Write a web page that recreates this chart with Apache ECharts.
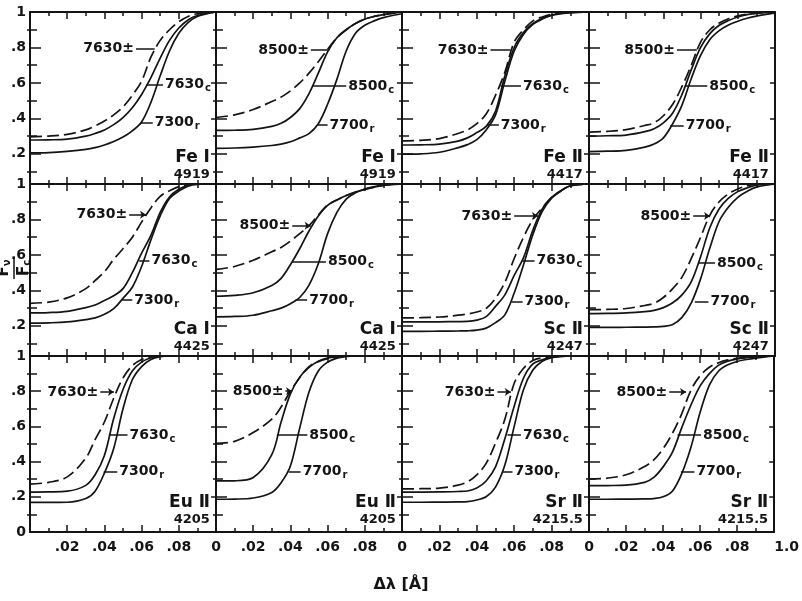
<!DOCTYPE html>
<html><head><meta charset="utf-8">
<script src="https://cdn.jsdelivr.net/npm/echarts@6/dist/echarts.min.js"></script>
<style>html,body{margin:0;padding:0;background:#fff}#c{width:802px;height:601px}</style>
</head><body><div id="c"></div>
<script>
// shared wavelength offsets (Å)
const xs = [0, 0.01, 0.02, 0.03, 0.035, 0.04, 0.045, 0.05, 0.055, 0.06, 0.065, 0.07, 0.075, 0.08, 0.085, 0.09, 0.1];

// Fe I 4919
const fe1_4919_7630pm = [.296,.30,.31,.335,.357,.385,.42,.465,.53,.61,.745,.84,.9,.945,.975,.99,1];
const fe1_4919_7630c  = [.278,.279,.283,.30,.315,.335,.365,.405,.46,.535,.63,.74,.84,.91,.955,.98,1];
const fe1_4919_7300r  = [.205,.207,.214,.225,.235,.25,.27,.295,.33,.38,.49,.64,.78,.88,.94,.975,1];
const fe1_4919_8500pm = [.405,.42,.45,.495,.52,.555,.6,.655,.72,.79,.855,.9,.935,.96,.975,.985,1];
const fe1_4919_8500c  = [.332,.333,.338,.355,.372,.405,.455,.54,.655,.775,.855,.9,.935,.96,.975,.985,1];
const fe1_4919_7700r  = [.231,.233,.238,.247,.255,.268,.29,.314,.37,.48,.62,.78,.88,.925,.95,.968,.99];
// Fe II 4417
const fe2_4417_7630pm = [.273,.276,.286,.315,.335,.37,.425,.53,.66,.83,.9,.95,.972,.987,.994,.998,1];
const fe2_4417_7630c  = [.25,.251,.255,.272,.29,.32,.355,.44,.64,.8,.885,.935,.965,.983,.992,.997,1];
const fe2_4417_7300r  = [.198,.2,.209,.235,.252,.28,.335,.42,.61,.78,.875,.93,.96,.98,.99,.996,1];
const fe2_4417_8500pm = [.323,.327,.337,.36,.375,.415,.48,.58,.7,.83,.9,.938,.962,.978,.988,.994,1];
const fe2_4417_8500c  = [.3,.302,.306,.325,.342,.375,.43,.535,.675,.8,.878,.925,.952,.972,.985,.992,1];
const fe2_4417_7700r  = [.213,.215,.22,.238,.255,.29,.37,.475,.625,.755,.845,.895,.927,.948,.965,.977,.995];
// Ca I 4425
const ca1_4425_7630pm = [.327,.334,.358,.41,.455,.505,.575,.635,.7,.785,.865,.93,.962,.985,.996,1,1];
const ca1_4425_7630c  = [.273,.275,.282,.303,.318,.343,.37,.41,.5,.61,.71,.84,.927,.97,.993,1,1];
const ca1_4425_7300r  = [.215,.217,.222,.235,.245,.265,.297,.355,.418,.535,.685,.82,.918,.96,.988,.998,1];
const ca1_4425_8500pm = [.518,.535,.57,.618,.642,.678,.72,.765,.825,.882,.91,.935,.955,.97,.982,.992,1];
const ca1_4425_8500c  = [.367,.372,.387,.428,.468,.545,.635,.735,.82,.88,.91,.935,.955,.97,.982,.992,1];
const ca1_4425_7700r  = [.251,.253,.26,.285,.3,.325,.36,.43,.55,.72,.84,.915,.95,.972,.985,.995,1];
// Sc II 4247
const sc2_4247_7630pm = [.245,.246,.25,.26,.267,.278,.298,.355,.445,.58,.7,.8,.865,.925,.962,.99,1];
const sc2_4247_7630c  = [.222,.222,.223,.224,.225,.232,.252,.31,.375,.485,.585,.74,.86,.925,.962,.99,1];
const sc2_4247_7300r  = [.169,.169,.17,.171,.172,.176,.187,.218,.262,.385,.545,.715,.845,.92,.96,.99,1];
const sc2_4247_8500pm = [.291,.293,.298,.315,.328,.36,.41,.475,.58,.7,.825,.9,.945,.972,.99,.998,1];
const sc2_4247_8500c  = [.269,.27,.273,.28,.287,.303,.33,.375,.45,.59,.755,.86,.92,.957,.978,.993,1];
const sc2_4247_7700r  = [.191,.191,.192,.193,.194,.197,.208,.248,.33,.465,.64,.79,.87,.925,.958,.982,1];
// Eu II 4205
const eu2_4205_7630pm = [.272,.282,.313,.42,.525,.625,.76,.875,.945,.98,.995,1,1,1,1,1,1];
const eu2_4205_7630c  = [.227,.228,.232,.265,.325,.435,.645,.81,.915,.965,.99,1,1,1,1,1,1];
const eu2_4205_7300r  = [.168,.168,.169,.19,.232,.335,.475,.7,.865,.94,.98,.996,1,1,1,1,1];
const eu2_4205_8500pm = [.503,.515,.565,.641,.71,.8,.877,.94,.968,.985,.993,1,1,1,1,1,1];
const eu2_4205_8500c  = [.29,.291,.31,.44,.625,.785,.88,.935,.97,.988,.996,1,1,1,1,1,1];
const eu2_4205_7700r  = [.186,.187,.193,.225,.28,.375,.59,.795,.915,.965,.988,.997,1,1,1,1,1];
// Sr II 4215.5
const sr2_4215_7630pm = [.245,.246,.249,.266,.285,.325,.39,.505,.64,.845,.93,.975,.99,.996,1,1,1];
const sr2_4215_7630c  = [.227,.227,.228,.23,.233,.25,.29,.37,.53,.715,.875,.955,.978,.992,.998,1,1];
const sr2_4215_7300r  = [.169,.169,.17,.171,.173,.182,.2,.255,.38,.6,.81,.92,.97,.99,.997,1,1];
const sr2_4215_8500pm = [.3,.306,.325,.372,.41,.473,.56,.67,.805,.888,.936,.962,.978,.987,.993,.997,1];
const sr2_4215_8500c  = [.263,.264,.266,.282,.31,.37,.452,.59,.72,.83,.9,.948,.971,.983,.99,.995,1];
const sr2_4215_7700r  = [.186,.186,.187,.188,.19,.2,.232,.33,.48,.68,.835,.915,.95,.969,.98,.988,1];

// panel texts
const elements    = ['Fe Ⅰ','Fe Ⅰ','Fe Ⅱ','Fe Ⅱ','Ca Ⅰ','Ca Ⅰ','Sc Ⅱ','Sc Ⅱ','Eu Ⅱ','Eu Ⅱ','Sr Ⅱ','Sr Ⅱ'];
const wavelengths = ['4919','4919','4417','4417','4425','4425','4247','4247','4205','4205','4215.5','4215.5'];
const pmNames = ['7630','8500','7630','8500','7630','8500','7630','8500','7630','8500','7630','8500'];
const cNames  = ['7630','8500','7630','8500','7630','8500','7630','8500','7630','8500','7630','8500'];
const rNames  = ['7300','7700','7300','7700','7300','7700','7300','7700','7300','7700','7300','7700'];
const yMajorTicks = [0, 0.2, 0.4, 0.6, 0.8, 1];
const yMinorTicks = [0.1, 0.3, 0.5, 0.7, 0.9];
const pmData = [fe1_4919_7630pm, fe1_4919_8500pm, fe2_4417_7630pm, fe2_4417_8500pm, ca1_4425_7630pm, ca1_4425_8500pm, sc2_4247_7630pm, sc2_4247_8500pm, eu2_4205_7630pm, eu2_4205_8500pm, sr2_4215_7630pm, sr2_4215_8500pm];
const cData  = [fe1_4919_7630c, fe1_4919_8500c, fe2_4417_7630c, fe2_4417_8500c, ca1_4425_7630c, ca1_4425_8500c, sc2_4247_7630c, sc2_4247_8500c, eu2_4205_7630c, eu2_4205_8500c, sr2_4215_7630c, sr2_4215_8500c];
const rData  = [fe1_4919_7300r, fe1_4919_7700r, fe2_4417_7300r, fe2_4417_7700r, ca1_4425_7300r, ca1_4425_7700r, sc2_4247_7300r, sc2_4247_7700r, eu2_4205_7300r, eu2_4205_7700r, sr2_4215_7300r, sr2_4215_7700r];

// annotation anchors (data coords): pm text end x, pm curve x, pm y, c curve x, c text x, c y, r curve x, r text x, r y
const ann = [
 [.057,.067,.795, .0624,.0715,.59, .0596,.066,.375],
 [.051,.061,.785, .0518,.07,.583, .0545,.06,.363],
 [.0473,.058,.785, .0527,.0636,.583, .0455,.0518,.363],
 [.0473,.058,.785, .0518,.0636,.583, .0436,.0509,.36],
 [.0533,.0624,.827, .0587,.0642,.567, .0496,.055,.345],
 [.041,.0509,.764, .0409,.0591,.564, .0427,.049,.345],
 [.06,.0727,.82, .0645,.0709,.567, .0585,.0645,.336],
 [.056,.0651,.82, .0587,.0678,.555, .0569,.0642,.336],
 [.0378,.0451,.795, .0424,.0524,.551, .0396,.0469,.344],
 [.0373,.0409,.8, .0327,.0491,.551, .0391,.0455,.344],
 [.051,.0582,.795, .0564,.0636,.551, .0536,.0591,.344],
 [.0433,.0524,.795, .0478,.0605,.551, .0496,.0569,.344]
];

const ink = '#141414';
const FF = 'DejaVu Sans';
const colX = [30, 216, 402, 589, 775];
const rowY = [12, 184, 356, 532];
const rowMin = [0.03, 0.03, 0];
const elemY = [[0.18, 0.085], [0.18, 0.085], [0.165, 0.068]];

const grids = [], xAxes = [], yAxes = [], series = [];
const RICH = {
  n: {fontSize: 14, fontWeight: 'bold', fontFamily: FF, color: ink},
  s: {fontSize: 10, fontWeight: 'bold', fontFamily: FF, color: ink, padding: [8, 0, 0, 1]}
};
function xfmt(v, col) {
  if (v < 1e-6) return col === 0 ? '' : '0';
  if (v > 0.0999) return col === 3 ? '1.0' : '';
  return '.0' + Math.round(v * 100);
}
function yfmt(v, row) {
  if (v > 0.999) return '1';
  if (v < 0.001) return row === 2 ? '0' : '';
  return '.' + Math.round(v * 10);
}
const tickLine = {color: ink, width: 1.5};

for (let i = 0; i < 12; i++) {
  const row = Math.floor(i / 4), col = i % 4;
  grids.push({left: colX[col], top: rowY[row], width: colX[col + 1] - colX[col], height: rowY[row + 1] - rowY[row]});
  const axLine = {show: true, onZero: false, lineStyle: {color: ink, width: 2}};
  const xb = {gridIndex: i, type: 'value', min: 0, max: 0.1, interval: 0.02, splitLine: {show: false},
    axisLine: axLine,
    axisTick: {show: true, inside: true, length: 7, lineStyle: tickLine},
    minorTick: {show: true, splitNumber: 2, length: 4, lineStyle: tickLine}};
  const xi = xAxes.length;
  xAxes.push(Object.assign({}, xb, {position: 'bottom',
    axisLabel: {show: row === 2, formatter: v => xfmt(v, col), color: ink, fontSize: 14, fontWeight: 'bold', fontFamily: FF, margin: 8,
      showMinLabel: true, showMaxLabel: true, alignMaxLabel: col === 3 ? 'left' : 'center'}}));
  xAxes.push(Object.assign({}, xb, {position: 'top', axisLabel: {show: false}}));

  const majors = yMajorTicks.filter(v => v >= rowMin[row]);
  const yb = {gridIndex: i, type: 'value', min: rowMin[row], max: 1, splitLine: {show: false}, axisLine: axLine};
  const yi = yAxes.length;
  yAxes.push(Object.assign({}, yb, {position: 'left',
    axisTick: {show: true, inside: true, length: 11, lineStyle: tickLine, customValues: majors},
    axisLabel: {show: col === 0, customValues: majors, formatter: v => yfmt(v, row), color: ink, fontSize: 14, fontWeight: 'bold', fontFamily: FF, margin: 4,
      showMinLabel: true, showMaxLabel: true}}));
  yAxes.push(Object.assign({}, yb, {position: 'left', axisLine: {show: false},
    axisTick: {show: true, inside: true, length: 7, lineStyle: tickLine, customValues: yMinorTicks},
    axisLabel: {show: false}}));
  yAxes.push(Object.assign({}, yb, {position: 'right',
    axisTick: {show: true, inside: true, length: 5, lineStyle: tickLine, customValues: majors},
    axisLabel: {show: false}}));
  yAxes.push(Object.assign({}, yb, {position: 'right', axisLine: {show: false},
    axisTick: {show: true, inside: true, length: 3, lineStyle: tickLine, customValues: yMinorTicks},
    axisLabel: {show: false}}));

  const mk = arr => xs.map((x, k) => [x, arr[k]]);
  const base = {type: 'line', xAxisIndex: xi, yAxisIndex: yi, showSymbol: false, smooth: 0.35, silent: true, animation: false};
  const a = ann[i];
  series.push(Object.assign({}, base, {data: mk(pmData[i]), lineStyle: {color: ink, width: 1.7, type: [12, 5]}}));
  series.push(Object.assign({}, base, {data: mk(cData[i]), lineStyle: {color: ink, width: 1.7},
    markLine: {silent: true, animation: false, symbol: ['none', 'none'], symbolSize: 7,
      lineStyle: {color: ink, width: 1.5, type: 'solid'},
      label: {show: true, color: ink, fontFamily: FF, fontWeight: 'bold', fontSize: 14, distance: 2, rich: RICH},
      data: [
        [{coord: [a[0], a[2]], symbol: 'none', label: {position: 'start', formatter: pmNames[i] + '±'}},
         {coord: [a[1], a[2]], symbol: row > 0 ? 'arrow' : 'none', symbolSize: 6}],
        [{coord: [a[3], a[5]], symbol: 'none', label: {position: 'end', formatter: '{n|' + cNames[i] + '}{s|c}'}},
         {coord: [a[4], a[5]], symbol: 'none'}],
        [{coord: [a[6], a[8]], symbol: 'none', label: {position: 'end', formatter: '{n|' + rNames[i] + '}{s|r}'}},
         {coord: [a[7], a[8]], symbol: 'none'}]
      ]}}));
  series.push(Object.assign({}, base, {data: mk(rData[i]), lineStyle: {color: ink, width: 1.7},
    markPoint: {silent: true, animation: false, symbol: 'rect', symbolSize: 1, itemStyle: {color: 'rgba(0,0,0,0)'},
      data: [
        {coord: [0.097, elemY[row][0]], label: {show: true, position: 'left', distance: 0, formatter: elements[i], color: ink, fontSize: 17, fontWeight: 'bold', fontFamily: FF}},
        {coord: [0.097, elemY[row][1]], label: {show: true, position: 'left', distance: 0, formatter: wavelengths[i], color: ink, fontSize: 13, fontWeight: 'bold', fontFamily: FF}}
      ]}}));
}

const chart = echarts.init(document.getElementById('c'), null, {renderer: 'canvas'});
chart.setOption({
  animation: false,
  backgroundColor: '#fff',
  grid: grids, xAxis: xAxes, yAxis: yAxes, series: series,
  graphic: [
    {type: 'text', x: 401, y: 585, style: {text: 'Δλ [Å]', textAlign: 'center', textVerticalAlign: 'middle', font: 'bold 16px DejaVu Sans', fill: ink}},
    {type: 'group', x: 14, y: 268, rotation: Math.PI / 2, children: [
      {type: 'text', x: 0, y: -2, style: {text: '{a|F}{b|ν}', textAlign: 'center', textVerticalAlign: 'bottom',
        rich: {a: {font: 'bold 15px DejaVu Sans', fill: ink}, b: {font: 'bold 10px DejaVu Sans', fill: ink, padding: [6, 0, 0, 0]}}}},
      {type: 'line', shape: {x1: -11, y1: 0, x2: 11, y2: 0}, style: {stroke: ink, lineWidth: 1.5}},
      {type: 'text', x: 0, y: 2, style: {text: '{a|F}{b|c}', textAlign: 'center', textVerticalAlign: 'top',
        rich: {a: {font: 'bold 15px DejaVu Sans', fill: ink}, b: {font: 'bold 10px DejaVu Sans', fill: ink, padding: [6, 0, 0, 0]}}}}
    ]}
  ]
});
</script>
</body></html>
